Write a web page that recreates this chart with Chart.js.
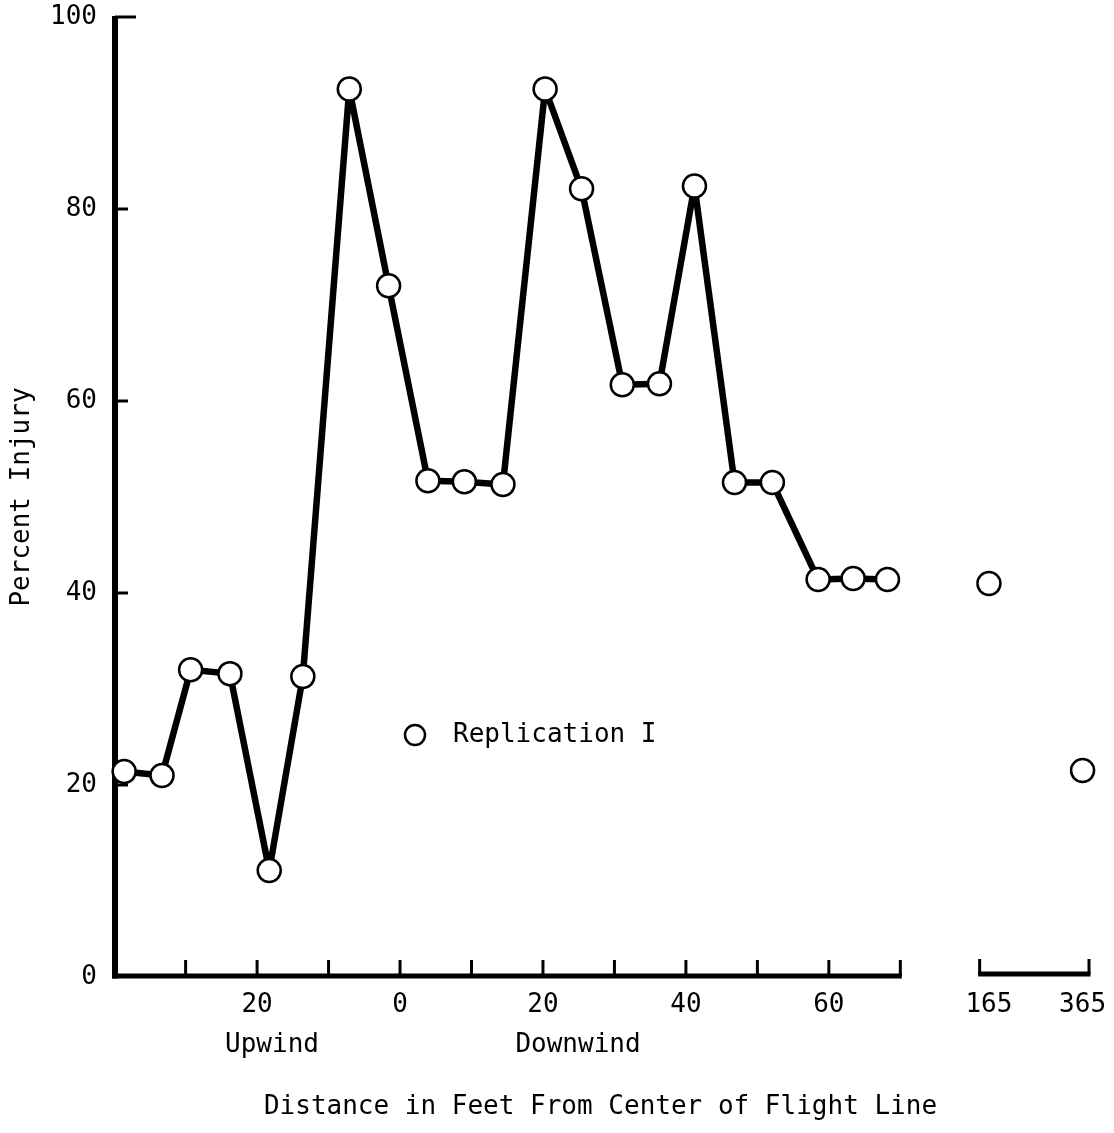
<!DOCTYPE html>
<html>
<head>
<meta charset="utf-8">
<script src="https://cdn.jsdelivr.net/npm/chart.js@4.4.1/dist/chart.umd.min.js"></script>
<style>
  html, body { margin: 0; padding: 0; background: #fff; }
  #wrap { width: 1114px; height: 1133px; }
</style>
</head>
<body>
<div id="wrap"><canvas id="myChart" width="1114" height="1133"></canvas></div>
<script>
// distance in feet from center of flight line (negative = upwind)
const distanceFt = [-38.6, -33.3, -29.3, -23.8, -18.3, -13.6, -7.1, -1.6, 3.9, 9.0, 14.4,
                    20.3, 25.4, 31.1, 36.3, 41.2, 46.8, 52.1, 58.5, 63.4, 68.2];
const injuryPct = [21.4, 21.0, 32.0, 31.6, 11.1, 31.3, 92.5, 72.0, 51.7, 51.6, 51.3,
                   92.5, 82.1, 61.7, 61.8, 82.4, 51.5, 51.5, 41.4, 41.5, 41.4];
// far points, shown past the axis break
const farDistanceFt = [165, 365];
const farInjuryPct = [41.0, 21.5];

const xTickLabels = [-20, 0, 20, 40, 60];
const xMinorTicks = [-30, -20, -10, 0, 10, 20, 30, 40, 50, 60, 70];
const yTickLabels = [0, 20, 40, 60, 80, 100];

// broken axis: far distances squeezed onto a short second segment
const nearEnd = 70;
const farSeg = [81.1, 96.4];
function farPos(d) {
  return 82.4 + (d - 165) * (95.5 - 82.4) / 200;
}

const FONT = "'DejaVu Sans Mono', monospace";

const mainPts = distanceFt.map((d, i) => ({ x: d, y: injuryPct[i] }));
const farPts = farDistanceFt.map((d, i) => ({ x: farPos(d), y: farInjuryPct[i] }));
const farTicks = farDistanceFt.map(farPos);

const axesPlugin = {
  id: 'brokenAxes',
  beforeDatasetsDraw(chart) {
    const ctx = chart.ctx;
    const xs = chart.scales.x, ys = chart.scales.y;
    const y0 = ys.getPixelForValue(0) - 1;
    ctx.save();
    ctx.strokeStyle = '#000';
    ctx.lineCap = 'butt';

    // y axis
    const ax = xs.left + 3;
    ctx.lineWidth = 6;
    ctx.beginPath();
    ctx.moveTo(ax, ys.getPixelForValue(100) - 1);
    ctx.lineTo(ax, y0 + 2.5);
    ctx.stroke();
    ctx.lineWidth = 3;
    yTickLabels.slice(1).forEach(v => {
      const py = ys.getPixelForValue(v);
      ctx.beginPath();
      ctx.moveTo(ax, py);
      ctx.lineTo(ax + (v === 100 ? 21 : 13), py);
      ctx.stroke();
    });

    // x axis, first segment
    ctx.lineWidth = 5;
    ctx.beginPath();
    ctx.moveTo(xs.left, y0);
    ctx.lineTo(xs.getPixelForValue(nearEnd) + 1.5, y0);
    ctx.stroke();
    ctx.lineWidth = 3;
    xMinorTicks.forEach(v => {
      const px = xs.getPixelForValue(v);
      ctx.beginPath();
      ctx.moveTo(px, y0);
      ctx.lineTo(px, y0 - 16);
      ctx.stroke();
    });

    // x axis, second segment
    const fy = y0 - 2;
    ctx.lineWidth = 5;
    ctx.beginPath();
    ctx.moveTo(xs.getPixelForValue(farSeg[0]) - 1.5, fy);
    ctx.lineTo(xs.getPixelForValue(farSeg[1]) + 1.5, fy);
    ctx.stroke();
    ctx.lineWidth = 3;
    farSeg.forEach(v => {
      const px = xs.getPixelForValue(v);
      ctx.beginPath();
      ctx.moveTo(px, fy);
      ctx.lineTo(px, fy - 15);
      ctx.stroke();
    });

    // under-axis notes
    ctx.fillStyle = '#000';
    ctx.font = '26px ' + FONT;
    ctx.textAlign = 'center';
    ctx.textBaseline = 'middle';
    ctx.fillText('Upwind', 272, 1045);
    ctx.fillText('Downwind', 578, 1045);

    // legend
    ctx.lineWidth = 2.5;
    ctx.beginPath();
    ctx.arc(415, 735, 10, 0, Math.PI * 2);
    ctx.stroke();
    ctx.textAlign = 'left';
    ctx.fillText('Replication I', 453, 735);
    ctx.restore();
  }
};

const ctx = document.getElementById('myChart');
new Chart(ctx, {
  type: 'scatter',
  data: {
    datasets: [
      {
        label: 'Replication I',
        data: mainPts,
        showLine: true,
        borderColor: '#000',
        borderWidth: 6.5,
        borderJoinStyle: 'round',
        pointRadius: 11.5,
        pointBorderWidth: 2.5,
        pointBackgroundColor: '#fff',
        pointBorderColor: '#000',
        clip: false
      },
      {
        label: 'Replication I (far)',
        data: farPts,
        showLine: false,
        pointRadius: 11.5,
        pointBorderWidth: 2.5,
        pointBackgroundColor: '#fff',
        pointBorderColor: '#000',
        clip: false
      }
    ]
  },
  options: {
    responsive: false,
    animation: false,
    layout: { padding: { top: 17, right: 25, left: 0, bottom: 0 } },
    plugins: { legend: { display: false }, tooltip: { enabled: false } },
    scales: {
      x: {
        type: 'linear',
        min: -40.3,
        max: 96.4,
        grid: { display: false, drawTicks: false },
        border: { display: false },
        afterBuildTicks: s => {
          s.ticks = xTickLabels.concat(farTicks).map(v => ({ value: v }));
        },
        afterFit: s => {
          s.height = 156;
          s.paddingLeft = 0;
          s.paddingRight = 0;
        },
        ticks: {
          autoSkip: false,
          maxRotation: 0,
          padding: 13,
          color: '#000',
          font: { family: FONT, size: 26 },
          callback: (v) => {
            const i = farTicks.indexOf(v);
            if (i >= 0) return String(farDistanceFt[i]);
            return String(Math.abs(v));
          }
        },
        title: {
          display: true,
          text: 'Distance in Feet From Center of Flight Line',
          color: '#000',
          font: { family: FONT, size: 26 },
          padding: { top: 0, bottom: 10 }
        }
      },
      y: {
        min: 0,
        max: 100,
        grid: { display: false, drawTicks: false },
        border: { display: false },
        afterBuildTicks: s => {
          s.ticks = yTickLabels.map(v => ({ value: v }));
        },
        afterFit: s => {
          s.width = 112;
          s.paddingTop = 0;
          s.paddingBottom = 0;
        },
        ticks: {
          padding: 15,
          color: '#000',
          font: { family: FONT, size: 26 }
        },
        title: {
          display: true,
          text: 'Percent Injury',
          color: '#000',
          font: { family: FONT, size: 26 },
          padding: { top: 7, bottom: 0 }
        }
      }
    }
  },
  plugins: [axesPlugin]
});
</script>
</body>
</html>
